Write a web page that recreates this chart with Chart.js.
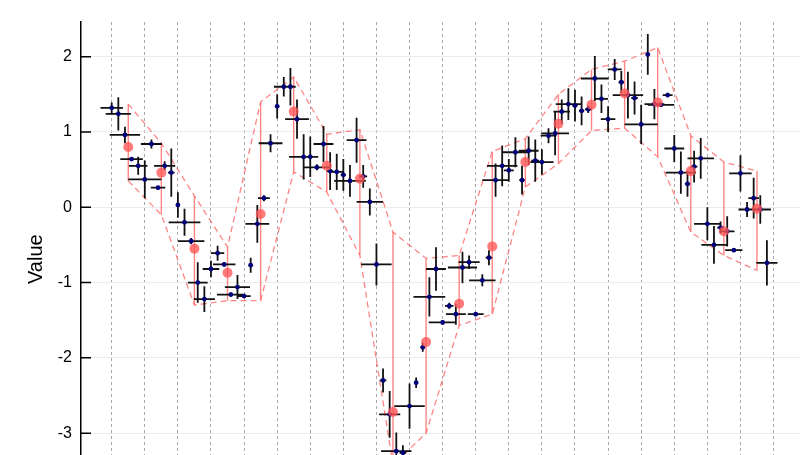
<!DOCTYPE html>
<html><head><meta charset="utf-8">
<script src="https://cdn.jsdelivr.net/npm/chart.js@4"></script>
<style>
html,body{margin:0;padding:0;background:#fff;overflow:hidden;width:808px;height:455px;}
#wrap{width:808px;height:455px;overflow:hidden;}
canvas{display:block;}
</style>
</head><body><div id="wrap"><canvas id="c" width="808" height="515"></canvas></div>
<script>
// x positions of observations (index)
const pointX = [0,1,2,3,4,5,6,7,8,9,10,11,12,13,14,15,16,17,18,19,20,21,22,23,24,25,26,27,28,29,30,31,32,33,34,35,36,37,38,39,40,41,42,43,44,45,46,47,48,49,50,51,52,53,54,55,56,57,58,59,60,61,62,63,64,65,66,67,68,69,70,71,72,73,74,75,76,77,78,79,80,81,82,83,84,85,86,87,88,89,90,91,92,93,94,95,96,97,98,99];
const pointY = [1.32,1.24,0.96,0.64,0.55,0.37,0.84,0.26,0.55,0.46,
  0.03,-0.20,-0.45,-1.00,-1.22,-0.82,-0.61,-0.76,-1.16,-1.06,
  -1.18,-0.77,-0.22,0.12,0.85,1.34,1.60,1.60,1.17,0.67,
  0.67,0.53,0.84,0.48,0.47,0.43,0.35,0.89,0.41,0.07,
  -0.76,-2.30,-2.75,-3.24,-3.26,-2.64,-2.33,-1.86,-1.19,-0.82,
  -1.53,-1.31,-1.42,-0.80,-0.73,-1.42,-0.97,-0.67,0.36,0.55,
  0.49,0.73,0.36,0.75,0.62,0.60,0.95,0.98,1.27,1.37,
  1.35,1.28,1.30,1.71,1.44,1.17,1.83,1.66,1.49,1.45,
  1.10,2.03,1.37,1.36,1.49,0.78,0.46,0.31,0.54,0.65,
  -0.22,-0.50,-0.27,-0.32,-0.57,0.45,-0.03,0.12,-0.03,-0.74];
const pointXErr = [1.7,1.9,2.3,1.7,1.4,2.5,1.6,1.1,1.6,0.5,
  0.3,2.4,2.0,1.5,1.6,1.25,1.0,1.7,2.1,1.9,
  1.0,0.3,1.8,0.9,1.8,0.3,1.5,0.8,1.8,2.2,
  0.4,2.0,1.5,0.5,1.0,0.4,2.4,1.5,0.6,2.0,
  2.3,0.5,1.6,2.3,0.5,2.3,0.3,0.3,2.4,1.5,
  2.1,0.65,1.5,2.2,1.6,1.2,2.0,0.5,2.0,2.3,
  0.75,1.9,0.4,1.5,0.6,1.76,1.2,2.1,1.25,1.9,
  0.4,0.4,0.5,2.1,1.0,1.1,1.05,0.4,2.3,0.5,
  2.5,0.3,1.5,2.0,0.75,1.5,2.3,0.4,0.5,2.0,
  2.0,1.9,0.5,1.1,1.3,1.7,1.3,0.8,1.6,1.6];
const pointYErr = [0.07,0.22,0.11,0.02,0.12,0.25,0.06,0.02,0.06,0.32,
  0.17,0.18,0.04,0.27,0.17,0.11,0.10,0.03,0.03,0.16,
  0.02,0.10,0.25,0.04,0.12,0.16,0.13,0.25,0.26,0.30,
  0.27,0.04,0.24,0.25,0.24,0.21,0.21,0.30,0.15,0.18,
  0.28,0.16,0.31,0.25,0.10,0.30,0.07,0.06,0.26,0.29,
  0.03,0.04,0.14,0.21,0.09,0.02,0.08,0.10,0.22,0.27,
  0.15,0.20,0.19,0.19,0.28,0.17,0.10,0.29,0.16,0.21,
  0.21,0.19,0.05,0.30,0.19,0.17,0.14,0.15,0.31,0.22,
  0.26,0.27,0.20,0.03,0.03,0.18,0.28,0.17,0.21,0.27,
  0.22,0.25,0.08,0.20,0.02,0.24,0.10,0.27,0.19,0.30];
// binned summaries
const binX = [2.5,7.5,12.5,17.5,22.5,27.5,32.5,37.5,42.5,47.5,52.5,57.5,62.5,67.5,72.5,77.5,82.5,87.5,92.5,97.5];
const binMean = [0.80,0.46,-0.55,-0.87,-0.09,1.27,0.55,0.38,-2.72,-1.79,-1.28,-0.52,0.60,1.11,1.36,1.51,1.39,0.48,-0.32,-0.02];
const binUpper = [1.37,0.85,0.15,-0.53,1.40,1.73,0.97,1.03,-0.33,-0.68,-0.64,0.74,0.91,1.50,1.83,1.94,2.12,0.95,0.60,0.48];
const binLower = [0.35,-0.10,-1.30,-1.24,-1.24,0.47,0.20,-0.64,-3.42,-3.00,-1.57,-1.42,0.27,0.58,1.02,1.05,0.67,-0.33,-0.64,-0.84];
const yTickValues = [-3,-2,-1,0,1,2];
const xGridValues = [0,5,10,15,20,25,30,35,40,45,50,55,60,65,70,75,80,85,90,95,100];

const FONT = 'Liberation Sans, Arial, Helvetica, sans-serif';
const POINTS_INDEX = 1;

const rangeData = [];
binX.forEach((bx, k) => {
  rangeData.push({x: bx, y: binLower[k]}, {x: bx, y: binUpper[k]}, {x: bx, y: null});
});

const errorBarPlugin = {
  id: 'errorBars',
  beforeDatasetDraw(chart, args) {
    if (args.index !== POINTS_INDEX) return;
    const {ctx, chartArea, scales: {x, y}} = chart;
    ctx.save();
    ctx.beginPath();
    ctx.rect(chartArea.left, chartArea.top, chartArea.width, chartArea.height);
    ctx.clip();
    ctx.strokeStyle = '#111111';
    ctx.lineWidth = 1.8;
    ctx.beginPath();
    for (let i = 0; i < pointX.length; i++) {
      const px = x.getPixelForValue(pointX[i]);
      const py = y.getPixelForValue(pointY[i]);
      ctx.moveTo(x.getPixelForValue(pointX[i] - pointXErr[i]), py);
      ctx.lineTo(x.getPixelForValue(pointX[i] + pointXErr[i]), py);
      ctx.moveTo(px, y.getPixelForValue(pointY[i] - pointYErr[i]));
      ctx.lineTo(px, y.getPixelForValue(pointY[i] + pointYErr[i]));
    }
    ctx.stroke();
    ctx.restore();
  },
  afterDraw(chart) {
    const {ctx, chartArea, scales: {y}} = chart;
    ctx.save();
    ctx.strokeStyle = '#000';
    ctx.lineWidth = 1.5;
    ctx.beginPath();
    for (const v of yTickValues) {
      const py = y.getPixelForValue(v);
      ctx.moveTo(chartArea.left, py);
      ctx.lineTo(chartArea.left + 10, py);
    }
    ctx.stroke();
    ctx.restore();
  }
};

new Chart(document.getElementById('c'), {
  type: 'scatter',
  data: {
    datasets: [
      { label: 'mean', data: binX.map((v, k) => ({x: v, y: binMean[k]})),
        backgroundColor: 'rgba(255,85,85,0.78)', borderWidth: 0, pointRadius: 5 },
      { label: 'obs', data: pointX.map((v, i) => ({x: v, y: pointY[i]})),
        backgroundColor: '#00007a', borderWidth: 0, pointRadius: 2.4 },
      { label: 'range', data: rangeData, showLine: true, spanGaps: false,
        borderColor: 'rgba(255,110,110,0.85)', borderWidth: 1.4, pointRadius: 0 },
      { label: 'upper', data: binX.map((v, k) => ({x: v, y: binUpper[k]})), showLine: true,
        borderColor: 'rgba(255,120,120,0.9)', borderWidth: 1.3, borderDash: [6, 4], pointRadius: 0 },
      { label: 'lower', data: binX.map((v, k) => ({x: v, y: binLower[k]})), showLine: true,
        borderColor: 'rgba(255,120,120,0.9)', borderWidth: 1.3, borderDash: [6, 4], pointRadius: 0 }
    ]
  },
  options: {
    responsive: false,
    animation: false,
    layout: { padding: { top: 22, right: 8, left: 0, bottom: 0 } },
    plugins: { legend: { display: false }, tooltip: { enabled: false } },
    scales: {
      x: {
        type: 'linear', min: -4.64, max: 104,
        afterBuildTicks: s => { s.ticks = xGridValues.map(v => ({value: v})); },
        afterFit: s => { s.height = 15; },
        ticks: { display: false },
        grid: { color: '#a8a8a8', lineWidth: 1, drawTicks: false },
        border: { display: false, dash: [3, 3] }
      },
      y: {
        type: 'linear', min: -3.84, max: 2.46,
        afterBuildTicks: s => { s.ticks = yTickValues.map(v => ({value: v})); },
        afterFit: s => { s.width = 81; },
        ticks: { color: '#000', font: { family: FONT, size: 16 }, padding: 9 },
        grid: { color: '#ebebeb', lineWidth: 1, drawTicks: false },
        border: { display: true, color: '#000', width: 1.5 },
        title: { display: true, text: 'Value', color: '#000', font: { family: FONT, size: 20 }, padding: { top: 24, bottom: 0 } }
      }
    }
  },
  plugins: [errorBarPlugin]
});
</script>
</body></html>
